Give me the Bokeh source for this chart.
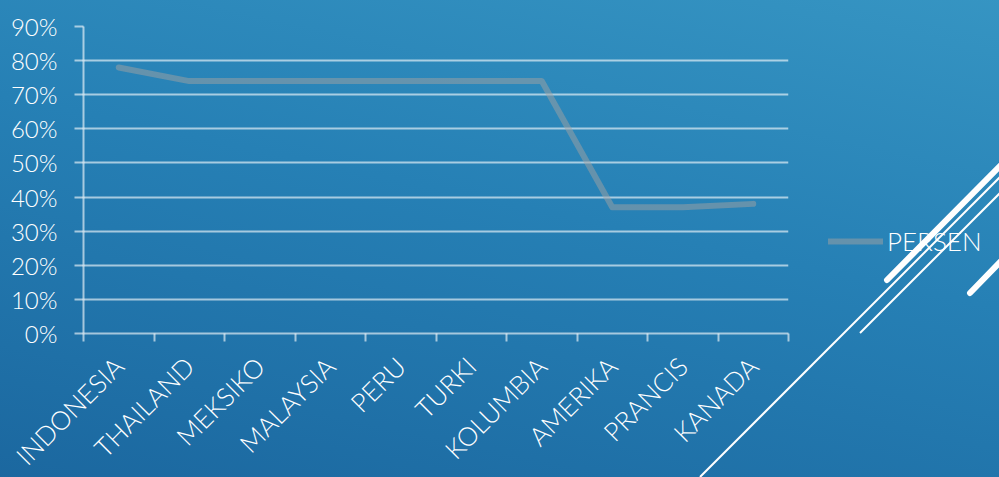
import math
from bokeh.plotting import figure
from bokeh.models import (Range1d, FixedTicker, NumeralTickFormatter, Legend,
                          LegendItem, InlineStyleSheet)
from bokeh.embed import file_html
from bokeh.resources import INLINE

# ---- data ----
categories = ["INDONESIA", "THAILAND", "MEKSIKO", "MALAYSIA", "PERU",
              "TURKI", "KOLUMBIA", "AMERIKA", "PRANCIS", "KANADA"]
persen = [0.78, 0.74, 0.74, 0.74, 0.74, 0.74, 0.74, 0.37, 0.37, 0.38]
y_ticks = [0.0, 0.1, 0.2, 0.3, 0.4, 0.5, 0.6, 0.7, 0.8, 0.9]
series_name = "PERSEN"

n = len(categories)
x_centers = [i + 0.5 for i in range(n)]
x_bounds = list(range(n + 1))

GRID = "#ffffff"
GRID_ALPHA = 0.6
LABEL_FONT = "Lato Light"

deco_svg = (
    "<svg xmlns='http://www.w3.org/2000/svg' width='999' height='477'>"
    "<line x1='700' y1='477' x2='1000' y2='177' stroke='white' stroke-width='2'/>"
    "<line x1='860' y1='333' x2='1000' y2='193' stroke='white' stroke-width='2'/>"
    "<line x1='887' y1='280' x2='1004' y2='162' stroke='white' stroke-width='6' stroke-linecap='round'/>"
    "<line x1='970' y1='293' x2='1004' y2='258' stroke='white' stroke-width='6' stroke-linecap='round'/>"
    "</svg>"
)
css = (
    ":host { position: relative; "
    "background: linear-gradient(12deg, #1b679f 0%, #2680b5 50%, #3a9ac6 100%); }\n"
    ":host::after { content: ''; position: absolute; left: 0; top: 0; "
    "width: 999px; height: 477px; pointer-events: none; "
    "background-image: url(\"data:image/svg+xml;utf8," + deco_svg + "\"); "
    "background-repeat: no-repeat; }"
)

p = figure(frame_width=705, frame_height=307,
           min_border_left=83, min_border_right=211,
           min_border_top=26, min_border_bottom=144,
           x_range=Range1d(0, n), y_range=Range1d(0, 0.9),
           output_backend="svg", toolbar_location=None,
           border_fill_color=None, background_fill_color=None,
           outline_line_color=None)
p.stylesheets = [InlineStyleSheet(css=css)]

# x axis: labels at category centres, ticks at boundaries
p.xaxis.ticker = FixedTicker(ticks=x_centers, minor_ticks=x_bounds)
p.xaxis.major_label_overrides = {xc: c for xc, c in zip(x_centers, categories)}
p.xaxis.major_label_orientation = math.pi / 4
p.xaxis.major_tick_line_color = None
p.xaxis.major_tick_out = 0
p.xaxis.major_tick_in = 0
p.xaxis.minor_tick_line_color = GRID
p.xaxis.minor_tick_line_alpha = GRID_ALPHA
p.xaxis.minor_tick_line_width = 2
p.xaxis.minor_tick_out = 8
p.xaxis.minor_tick_in = 0
p.xaxis.axis_line_color = GRID
p.xaxis.axis_line_alpha = GRID_ALPHA
p.xaxis.axis_line_width = 2
p.xaxis.major_label_text_color = "white"
p.xaxis.major_label_text_font = LABEL_FONT
p.xaxis.major_label_text_font_size = "26px"
p.xaxis.major_label_standoff = 20
p.xgrid.visible = False

# y axis
p.yaxis.ticker = FixedTicker(ticks=y_ticks)
p.yaxis.formatter = NumeralTickFormatter(format="0%")
p.yaxis.major_tick_line_color = GRID
p.yaxis.major_tick_line_alpha = GRID_ALPHA
p.yaxis.major_tick_line_width = 2
p.yaxis.major_tick_out = 9
p.yaxis.major_tick_in = 0
p.yaxis.minor_tick_line_color = None
p.yaxis.axis_line_color = GRID
p.yaxis.axis_line_alpha = GRID_ALPHA
p.yaxis.axis_line_width = 2
p.yaxis.major_label_text_color = "white"
p.yaxis.major_label_text_font = LABEL_FONT
p.yaxis.major_label_text_font_size = "24px"
p.yaxis.major_label_standoff = 17
p.ygrid.ticker = FixedTicker(ticks=y_ticks)
p.ygrid.grid_line_color = GRID
p.ygrid.grid_line_alpha = GRID_ALPHA
p.ygrid.grid_line_width = 2

r = p.line(x_centers, persen, line_color="#a2a2a2", line_alpha=0.5,
           line_width=6, line_cap="round", line_join="round")

legend = Legend(items=[LegendItem(label=series_name, renderers=[r])],
                location=(40, 76), glyph_width=55, glyph_height=20,
                label_standoff=4, padding=0, margin=0, spacing=0,
                border_line_color=None, background_fill_alpha=0,
                label_text_color="white", label_text_font=LABEL_FONT,
                label_text_font_size="26px")
p.add_layout(legend, "right")

open("out.html", "w").write(file_html(p, INLINE))
